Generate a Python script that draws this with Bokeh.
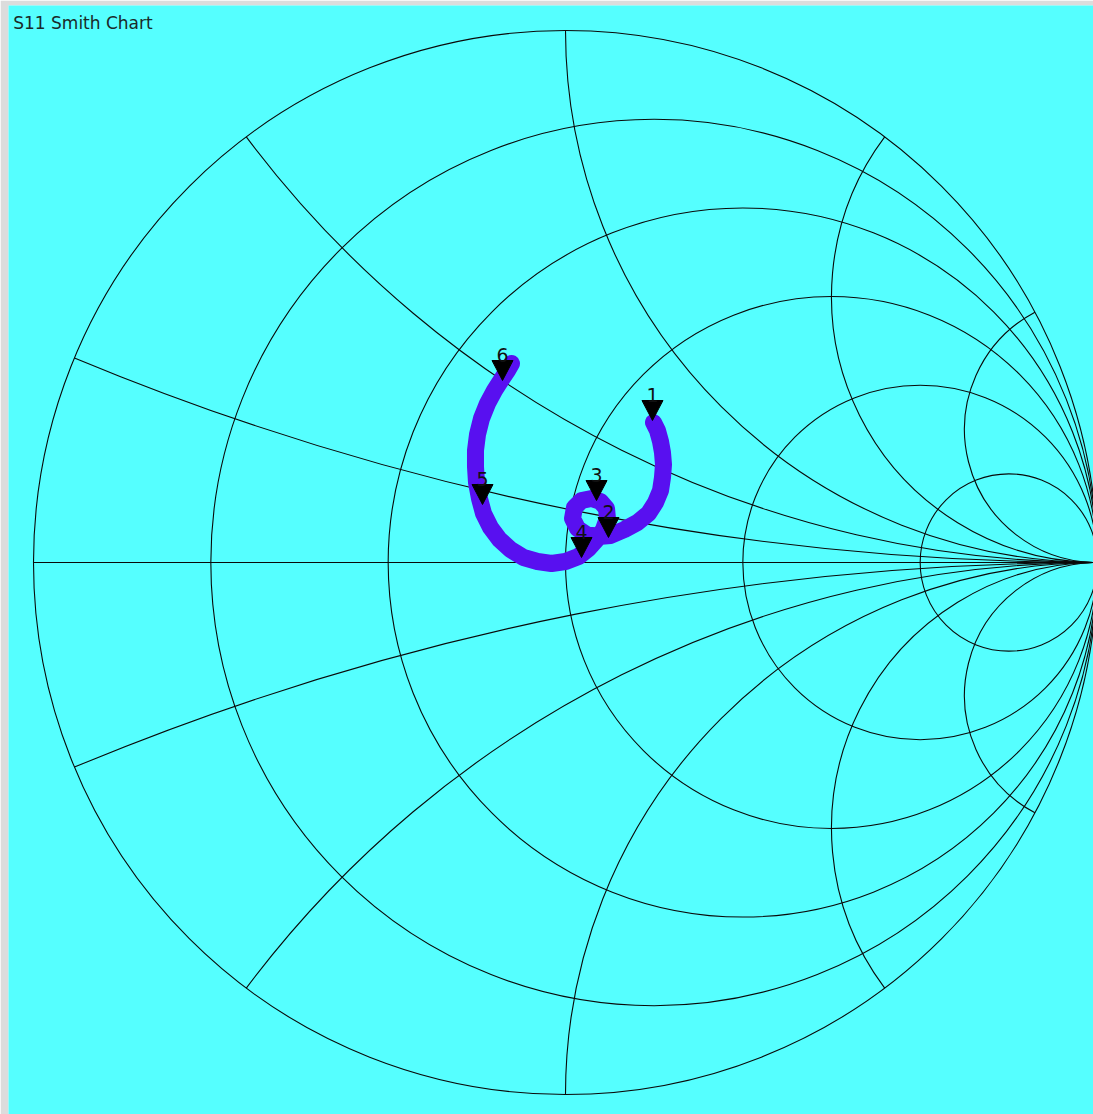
import numpy as np
from bokeh.plotting import figure
from bokeh.models import Range1d
from bokeh.core.properties import value
from bokeh.embed import file_html
from bokeh.resources import INLINE

# ---------------- data ----------------
title_text = "S11 Smith Chart"

# constant-resistance circles (0 = outer boundary) and constant-reactance arcs
r_values = [0.0, 0.2, 0.5, 1.0, 2.0, 5.0]
x_values = [0.2, 0.5, 1.0, 2.0, 4.0, -0.2, -0.5, -1.0, -2.0, -4.0]

# S11 trace (reflection coefficient, real / imaginary)
s11_re = [0.1654, 0.1729, 0.1786, 0.1823, 0.1842, 0.1823, 0.1786, 0.1692, 0.1560,
          0.1353, 0.1109, 0.0846, 0.0620, 0.0395, 0.0226, 0.0132, 0.0169, 0.0301,
          0.0489, 0.0658, 0.0771, 0.0789, 0.0714, 0.0583, 0.0432, 0.0244, 0.0000,
          -0.0263, -0.0526, -0.0789, -0.1034, -0.1241, -0.1410, -0.1541, -0.1617,
          -0.1673, -0.1692, -0.1692, -0.1654, -0.1579, -0.1466, -0.1335, -0.1203,
          -0.1090, -0.1015]
s11_im = [0.2632, 0.2481, 0.2274, 0.2068, 0.1842, 0.1598, 0.1353, 0.1128, 0.0921,
          0.0752, 0.0620, 0.0508, 0.0489, 0.0526, 0.0639, 0.0827, 0.1034, 0.1165,
          0.1203, 0.1147, 0.1015, 0.0827, 0.0620, 0.0432, 0.0263, 0.0113, 0.0019,
          -0.0019, 0.0019, 0.0094, 0.0244, 0.0432, 0.0658, 0.0921, 0.1203,
          0.1504, 0.1805, 0.2105, 0.2406, 0.2707, 0.2989, 0.3233, 0.3440,
          0.3609, 0.3741]

# markers
marker_labels = ["1", "2", "3", "4", "5", "6"]
marker_re = [0.1635, 0.0808, 0.0583, 0.0301, -0.1560, -0.1184]
marker_im = [0.2669, 0.0470, 0.1165, 0.0094, 0.1090, 0.3421]

# ---------------- layout / style ----------------
W, H = 1093, 1114
BL, BT = 8, 5                        # light window border (left, top)
SCALE = 532.0                        # pixels per unit of |Gamma|
CXP, CYP = 565, 562                  # page position of Gamma = 0
X0, X1 = (BL - CXP) / SCALE, (W - CXP) / SCALE
Y0, Y1 = (CYP - H) / SCALE, (CYP - BT) / SCALE
BG = "#55ffff"
GRID = "#0a0a0a"
TRACE = "#5810f0"
FONT = "DejaVu Sans"

p = figure(width=W, height=H, output_backend="svg", toolbar_location=None, tools="",
           x_range=Range1d(X0, X1), y_range=Range1d(Y0, Y1),
           x_axis_type=None, y_axis_type=None,
           min_border_left=BL, min_border_top=BT, min_border_right=0, min_border_bottom=0)
p.background_fill_color = BG
p.border_fill_color = "#dcdcdc"
p.outline_line_color = None

# constant-r circles
r_arr = np.array(r_values)
p.circle(x=r_arr / (1 + r_arr), y=np.zeros_like(r_arr), radius=1 / (1 + r_arr),
         fill_color=None, line_color=GRID, line_width=1.1)

# real axis (x = 0)
p.line([-1, 1], [0, 0], line_color=GRID, line_width=1.1)

# constant-x arcs (portion inside the unit circle)
cx, cy, rad, a0, a1 = [], [], [], [], []
for xv in x_values:
    gr = (xv * xv - 1) / (xv * xv + 1)
    gi = 2 * xv / (xv * xv + 1)
    c_y = 1.0 / xv
    th = np.arctan2(gi - c_y, gr - 1.0)
    cx.append(1.0)
    cy.append(c_y)
    rad.append(abs(1.0 / xv))
    if xv > 0:
        a0.append(th)
        a1.append(-np.pi / 2)
    else:
        a0.append(np.pi / 2)
        a1.append(th)
p.arc(x=cx, y=cy, radius=rad, start_angle=a0, end_angle=a1, direction="anticlock",
      line_color=GRID, line_width=1.1)

# S11 trace
p.line(s11_re, s11_im, line_color=TRACE, line_width=17, line_cap="round", line_join="round")

# markers: downward triangles whose tip sits on the data point
hw, th_ = 10.5 / SCALE, 20 / SCALE
tri_xs = [[mx - hw, mx + hw, mx] for mx in marker_re]
tri_ys = [[my + th_, my + th_, my] for my in marker_im]
p.patches(tri_xs, tri_ys, fill_color="black", line_color="black", line_width=1)

lab_y = [my + 25.5 / SCALE for my in marker_im]
p.text(x=marker_re, y=lab_y, text=marker_labels, text_align="center",
       text_baseline="alphabetic", text_font=value(FONT), text_font_size="19px",
       text_color="#111111")

# title
p.text(x=[X0 + 4.7 / SCALE], y=[Y1 - 17.7 / SCALE], text=[title_text], text_align="left",
       text_baseline="alphabetic", text_font=value(FONT), text_font_size="17px",
       text_color="#1a2a2a")

open("out.html", "w").write(file_html(p, INLINE))
